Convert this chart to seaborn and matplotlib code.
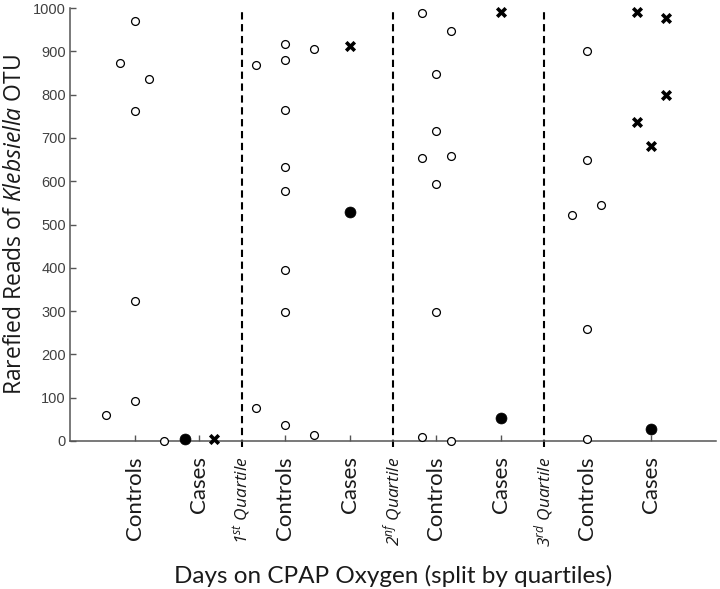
import pandas as pd
import seaborn as sns
from matplotlib import pyplot as plt
from matplotlib import transforms

# rarefied reads of the Klebsiella OTU, one list per CPAP quartile group
controls = [
    [970, 873, 836, 763, 323, 93, 59, 0],
    [917, 905, 880, 868, 765, 632, 577, 394, 299, 77, 36, 15],
    [988, 946, 847, 716, 659, 653, 593, 299, 10, 0],
    [901, 648, 546, 522, 258, 4],
]
# side-by-side slot of each point (to keep overlapping values apart)
controls_slot = [
    [0, -1, 1, 0, 0, 0, -2, 2],
    [0, 2, 0, -2, 0, 0, 0, 0, 0, -2, 0, 2],
    [-1, 1, 0, 0, 1, -1, 0, 0, -1, 1],
    [0, 0, 1, -1, 0, 0],
]
cases_dot = [[4], [529], [53], [27]]
cases_dot_slot = [[-1], [0], [0], [0]]
cases_cross = [[4], [913], [990], [991, 978, 799, 737, 682]]
cases_cross_slot = [[1], [0], [0], [-1, 1, 1, -1, 0]]

group_labels = ['Controls', 'Cases']
quartile_labels = ['1$^{st}$ Quartile', '2$^{nf}$ Quartile', '3$^{rd}$ Quartile']
y_ticks = [0, 100, 200, 300, 400, 500, 600, 700, 800, 900, 1000]

GAP = 7 / 3
STEP = 0.224


def build(values, slots, offset):
    rows = []
    for g, (vals, sl) in enumerate(zip(values, slots)):
        for v, s in zip(vals, sl):
            rows.append({'pos': 1 + offset + g * GAP + s * STEP, 'reads': v})
    return pd.DataFrame(rows)


df_ctrl = build(controls, controls_slot, 0)
df_dot = build(cases_dot, cases_dot_slot, 1)
df_cross = build(cases_cross, cases_cross_slot, 1)

sns.set_style('ticks')
plt.rcParams['mathtext.fontset'] = 'custom'
plt.rcParams['mathtext.rm'] = 'Open Sans'
plt.rcParams['mathtext.it'] = 'Open Sans:italic'

fig = plt.figure(figsize=(7.2, 5.89), dpi=100)
ax = fig.add_axes([70 / 720, 1 - 441 / 589, 646 / 720, 433 / 589])

sns.scatterplot(data=df_ctrl, x='pos', y='reads', marker='o', s=32, color='white',
                edgecolor='black', linewidth=0.9, clip_on=False, zorder=3, ax=ax)
sns.scatterplot(data=df_dot, x='pos', y='reads', marker='o', s=62, color='black',
                edgecolor='black', linewidth=0.5, clip_on=False, zorder=3, ax=ax)
sns.scatterplot(data=df_cross, x='pos', y='reads', marker='x', s=38, color='black',
                linewidth=2.6, clip_on=False, zorder=3, ax=ax)

ax.set_xlim(0, 10)
ax.set_ylim(0, 1000)
sns.despine(ax=ax)
for side in ['left', 'bottom']:
    ax.spines[side].set_color('#555555')
    ax.spines[side].set_linewidth(1.1)

tick_pos = []
tick_lab = []
for g in range(4):
    tick_pos += [1 + g * GAP, 2 + g * GAP]
    tick_lab += group_labels
ax.set_xticks(tick_pos)
ax.set_xticklabels(tick_lab, rotation=90, fontsize=16, family='Lato', color='#1a1a1a')
ax.set_yticks(y_ticks)
ax.set_yticklabels([str(t) for t in y_ticks], fontsize=10.5,
                   family=['Liberation Sans Narrow', 'Liberation Sans'], color='#404040')
ax.tick_params(axis='both', direction='in', length=4, width=1, color='#555555')
ax.tick_params(axis='x', pad=11)
ax.tick_params(axis='y', pad=3)

trans = transforms.blended_transform_factory(ax.transData, ax.transAxes)
for i, lab in enumerate(quartile_labels):
    xd = 8 / 3 + i * GAP
    ax.axvline(xd, ymin=-0.014, ymax=1.0, color='black', lw=1.5,
               ls=(0, (3.5, 2.2)), clip_on=False, zorder=2)
    ax.text(xd, -0.036, lab, transform=trans, rotation=90, ha='center', va='top',
            fontsize=12.5, family='Open Sans', style='italic', color='#1a1a1a')

ax.set_xlabel('Days on CPAP Oxygen (split by quartiles)', fontsize=17.5,
              family='Lato', color='#1a1a1a', labelpad=18)
ax.set_ylabel('Rarefied Reads of $\\mathit{Klebsiella}$ OTU', fontsize=16.5,
              family='Open Sans', color='#1a1a1a', labelpad=4)

fig.savefig('out.png', dpi=100)
